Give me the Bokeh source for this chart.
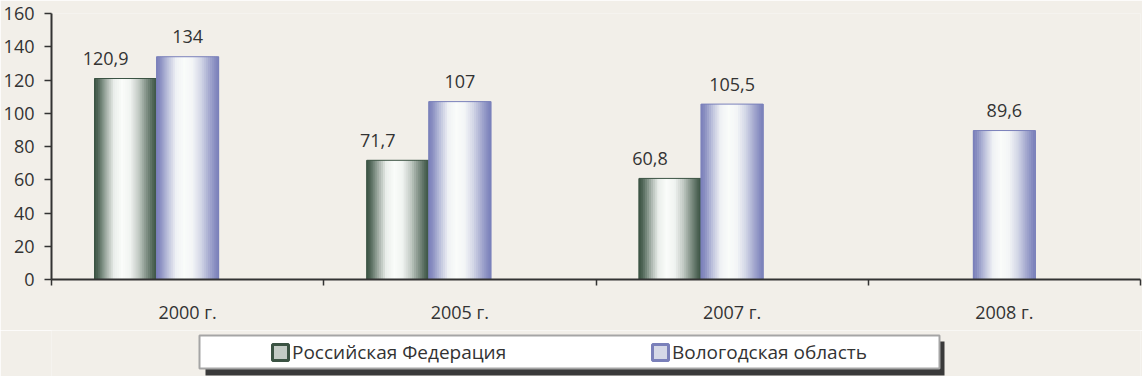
from bokeh.plotting import figure
from bokeh.layouts import column
from bokeh.models import (Range1d, FixedTicker, LinearAxis, ColumnDataSource,
                          Legend, LegendItem, BoxAnnotation)
from bokeh.core.properties import value
from bokeh.embed import file_html
from bokeh.resources import INLINE

# ---------------- data ----------------
categories = ["2000 г.", "2005 г.", "2007 г.", "2008 г."]
series_names = ["Российская Федерация", "Вологодская область"]
rf_values = [120.9, 71.7, 60.8, None]
vo_values = [134.0, 107.0, 105.5, 89.6]
y_ticks = [0, 20, 40, 60, 80, 100, 120, 140, 160]

# ---------------- style ----------------
FONT = "Open Sans"
FS = "18px"
TEXT = "#333333"
BG = "#f2efe9"
RF_EDGE = "#3b5343"
VO_EDGE = "#7a80ba"
BAR_W = 0.228
N_STRIPS = 30
GRAD_T = [0.0, 0.06, 0.18, 0.32, 0.45, 0.58, 0.72, 0.85, 0.95, 1.0]
GRAD_M = [1.0, 0.9, 0.5, 0.08, 0.0, 0.05, 0.3, 0.65, 0.9, 1.0]


def hex_rgb(h):
    h = h.lstrip("#")
    return tuple(int(h[i:i + 2], 16) for i in (0, 2, 4))


def grad_color(edge, t):
    m = GRAD_M[-1]
    for j in range(len(GRAD_T) - 1):
        if GRAD_T[j] <= t <= GRAD_T[j + 1]:
            f = (t - GRAD_T[j]) / (GRAD_T[j + 1] - GRAD_T[j])
            m = GRAD_M[j] + f * (GRAD_M[j + 1] - GRAD_M[j])
            break
    r, g, b = hex_rgb(edge)
    w = (250, 252, 250)
    c = [round(w[i] + (c0 - w[i]) * m) for i, c0 in enumerate((r, g, b))]
    return "#%02x%02x%02x" % tuple(c)


def fmt(v):
    s = ("%.1f" % v).rstrip("0").rstrip(".")
    return s.replace(".", ",")


n = len(categories)
centers = [i + 0.5 for i in range(n)]
bounds = [float(i) for i in range(n + 1)]

# ---------------- main chart ----------------
p = figure(width=1142, height=330,
           x_range=Range1d(0, n), y_range=Range1d(0, y_ticks[-1]),
           x_axis_type=None, y_axis_type=None,
           output_backend="svg", toolbar_location=None,
           min_border_left=50, min_border_right=2, min_border_top=13,
           min_border_bottom=51,
           background_fill_color=BG, border_fill_color=BG,
           outline_line_color=None)

yax = LinearAxis(ticker=FixedTicker(ticks=y_ticks, minor_ticks=[]))
yax.axis_line_color = TEXT
yax.axis_line_width = 2
yax.major_tick_line_color = TEXT
yax.major_tick_line_width = 1.5
yax.major_tick_out = 7
yax.major_tick_in = 0
yax.minor_tick_line_color = None
yax.major_label_standoff = 10
yax.major_label_text_font = FONT
yax.major_label_text_font_size = FS
yax.major_label_text_color = TEXT
p.add_layout(yax, "left")

xax = LinearAxis(ticker=FixedTicker(ticks=centers, minor_ticks=bounds))
xax.major_label_overrides = {c: lab for c, lab in zip(centers, categories)}
xax.axis_line_color = TEXT
xax.axis_line_width = 2
xax.major_tick_line_color = None
xax.major_tick_out = 0
xax.major_tick_in = 0
xax.minor_tick_line_color = TEXT
xax.minor_tick_line_width = 1.5
xax.minor_tick_out = 6
xax.minor_tick_in = 0
xax.major_label_standoff = 14
xax.major_label_text_font = FONT
xax.major_label_text_font_size = FS
xax.major_label_text_color = TEXT
p.add_layout(xax, "below")

series = [
    (rf_values, -BAR_W, RF_EDGE, -20),
    (vo_values, 0.0, VO_EDGE, 0),
]

for vals, off, edge, lab_dx in series:
    xs, tops, cols = [], [], []
    bx, bt, lt = [], [], []
    for i, v in enumerate(vals):
        if v is None:
            continue
        c = centers[i] + off
        for k in range(N_STRIPS):
            t = (k + 0.5) / N_STRIPS
            xs.append(c - BAR_W / 2 + t * BAR_W)
            tops.append(v)
            cols.append(grad_color(edge, t))
        bx.append(c)
        bt.append(v)
        lt.append(fmt(v))
    src = ColumnDataSource(dict(x=xs, top=tops, color=cols))
    p.vbar(x="x", top="top", bottom=0, width=BAR_W / N_STRIPS * 1.35,
           fill_color="color", line_color=None, source=src)
    p.vbar(x=bx, top=bt, bottom=0, width=BAR_W, fill_color=None,
           line_color=edge, line_width=1)
    p.text(x=bx, y=bt, text=lt, text_font=value(FONT), text_font_size=FS,
           text_color=TEXT, text_align="center", text_baseline="alphabetic",
           x_offset=lab_dx, y_offset=-20)

# ---------------- legend strip ----------------
# (frame of this strip is aligned by the column layout with the chart frame,
#  so screen units below are measured from x = 50)
lg = figure(width=1142, height=46, x_range=Range1d(0, 1), y_range=Range1d(0, 1),
            x_axis_type=None, y_axis_type=None,
            output_backend="svg", toolbar_location=None,
            min_border_left=50, min_border_right=2, min_border_top=0,
            min_border_bottom=0,
            background_fill_color=BG, border_fill_color=BG,
            outline_line_color=None)

legend_renderers = []
for edge in (RF_EDGE, VO_EDGE):
    # legend-only glyph: a tiny bar hidden underneath the white legend box
    r = lg.vbar(x=[0.5], top=[0.55], bottom=0.45, width=0.005,
                fill_color=grad_color(edge, 0.25), line_color=edge, line_width=3)
    legend_renderers.append(r)

shadow = BoxAnnotation(left=154, right=893, top=35, bottom=1,
                       left_units="screen", right_units="screen",
                       top_units="screen", bottom_units="screen",
                       fill_color="#3a3a3a", fill_alpha=1.0, line_color=None)
box = BoxAnnotation(left=148, right=888, top=41, bottom=8,
                    left_units="screen", right_units="screen",
                    top_units="screen", bottom_units="screen",
                    fill_color="white", fill_alpha=1.0,
                    line_color="#a5a5a5", line_alpha=1.0, line_width=2)
lg.add_layout(shadow)
lg.add_layout(box)

legend = Legend(items=[LegendItem(label=nm, renderers=[r])
                       for nm, r in zip(series_names, legend_renderers)],
                orientation="horizontal", location=(219, 11),
                padding=0, margin=0, spacing=0,
                glyph_width=20, glyph_height=20, label_standoff=2,
                label_width=358, label_height=26,
                label_text_font=FONT, label_text_font_size="19px",
                label_text_color=TEXT,
                background_fill_alpha=0, border_line_color=None)
lg.add_layout(legend, "center")

layout = column(p, lg, spacing=0)
open("out.html", "w").write(file_html(layout, INLINE))
